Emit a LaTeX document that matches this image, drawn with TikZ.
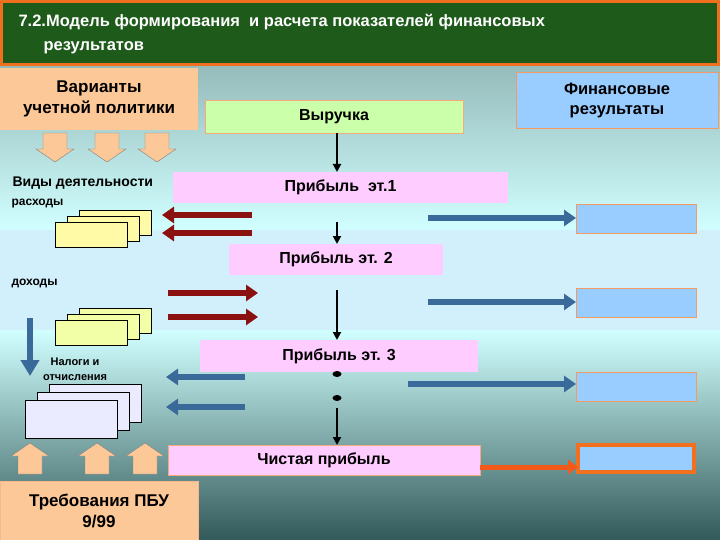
\documentclass[tikz,border=0pt]{standalone}
\usepackage{fontspec}
\setmainfont{Liberation Sans}
\usetikzlibrary{shapes.geometric,arrows.meta}
\definecolor{peach}{HTML}{FCC898}
\definecolor{pinkb}{HTML}{FFCCFF}
\definecolor{greenb}{HTML}{CCFFAA}
\definecolor{blueb}{HTML}{99CCFF}
\definecolor{darkred}{HTML}{8B1010}
\definecolor{steel}{HTML}{3A6A9A}
\definecolor{ttl}{HTML}{1E5A1A}
\definecolor{orng}{HTML}{F07020}
\tikzset{
 box/.style={anchor=north west,inner sep=0,outer sep=0,font=\bfseries},
 pbox/.style={box,fill=pinkb},
 rbox/.style={box,fill=blueb,draw=orng!70,line width=0.6pt,minimum width=120pt,minimum height=29pt},
 sheet/.style={fill=#1,draw=black,line width=0.6pt},
 fat/.style={line width=6pt,-{Triangle[length=12pt,width=16pt]}},
 blk/.style={line width=2pt,-{Triangle[length=8pt,width=8pt]}},
 pk/.style={fill=peach,draw=gray,line width=0.4pt},
}
\begin{document}
\begin{tikzpicture}[x=1pt,y=-1pt]
\shade[top color=teal!35!gray!75, bottom color=cyan!18!white] (0,0) rectangle (720,230);
\fill[cyan!18!white] (0,230) rectangle (720,330);
\shade[top color=cyan!18!white, bottom color=teal!50!black!60!gray] (0,330) rectangle (720,540);
\useasboundingbox (0,0) rectangle (720,540);
% title
\fill[ttl,draw=orng,line width=3pt] (1.5,1.5) rectangle (718.5,65);
\node[anchor=west,text=white,font=\bfseries\fontsize{16.5}{18}\selectfont] (t1) at (15,22) {7.2.Модель формирования\ \ и расчета показателей финансовых};
\node[anchor=west,text=white,font=\bfseries\fontsize{16.5}{18}\selectfont] (t2) at (40,48) {результатов};
% top boxes
\node[box,fill=peach,minimum width=198pt,minimum height=62pt,align=center,font=\bfseries\fontsize{17}{21}\selectfont] (var) at (0,68) {Варианты\\учетной политики};
\node[box,fill=greenb,draw=orng!60,line width=0.6pt,minimum width=258pt,minimum height=33pt,font=\bfseries\fontsize{16}{17}\selectfont] (rev) at (205,100) {\raisebox{-6pt}{Выручка}};
\node[box,fill=blueb,draw=orng!70,minimum width=202pt,minimum height=56pt,align=center,font=\bfseries\fontsize{16.5}{20}\selectfont] (fin) at (516,72) {Финансовые\\результаты};
% down block arrows
\foreach \x in {55,107,157}
  \draw[pk] (\x-12,133) -- (\x+12,133) -- (\x+12,149) -- (\x+19,149) -- (\x,162) -- (\x-19,149) -- (\x-12,149) -- cycle;
\node[anchor=west,font=\bfseries\fontsize{14}{15}\selectfont] (vid) at (9,183) {Виды деятельности};
\node[pbox,minimum width=335pt,minimum height=31pt,font=\bfseries\fontsize{16}{17}\selectfont] (p1) at (173,172) {\raisebox{-3pt}{Прибыль\ \ эт.1}};
\node[anchor=west,font=\bfseries\fontsize{12}{13}\selectfont] (ras) at (8,204) {расходы};
% yellow sheets
\foreach \dx/\dy in {24/-12,12/-6,0/0} \draw[sheet=yellow!35] (55+\dx,222+\dy) rectangle +(72,25);
\coordinate (r1a) at (252,215); \coordinate (r1b) at (162,215);
\coordinate (r2a) at (252,233); \coordinate (r2b) at (162,233);
\draw[fat,darkred] (r1a) -- (r1b);
\draw[fat,darkred] (r2a) -- (r2b);
\node[rbox] (b1) at (576,204) {};
\coordinate (s1) at (428,218);
\draw[fat,steel] (s1) -- (b1.west|-s1);
\node[pbox,minimum width=214pt,minimum height=31pt,font=\bfseries\fontsize{16}{17}\selectfont] (p2) at (229,244) {\raisebox{-3pt}{Прибыль эт. 2}};
\node[anchor=west,font=\bfseries\fontsize{12}{13}\selectfont] (doh) at (8,283) {доходы};
\coordinate (h1a) at (168,293); \coordinate (h1b) at (258,293);
\coordinate (h2a) at (168,317); \coordinate (h2b) at (258,317);
\draw[fat,darkred] (h1a) -- (h1b);
\draw[fat,darkred] (h2a) -- (h2b);
\foreach \dx/\dy in {24/-12,12/-6,0/0} \draw[sheet=green!15!yellow!35] (55+\dx,320+\dy) rectangle +(72,25);
\node[rbox] (b2) at (576,288) {};
\coordinate (s2) at (428,302);
\draw[fat,steel] (s2) -- (b2.west|-s2);
\coordinate (tx1) at (30,318); \coordinate (tx2) at (30,376);
\draw[fat,steel,-{Triangle[length=16pt,width=18pt]}] (tx1) -- (tx2);
\node[align=center,font=\bfseries\fontsize{11}{15}\selectfont] (nal) at (75,369) {Налоги и\\отчисления};
\node[pbox,minimum width=278pt,minimum height=32pt,font=\bfseries\fontsize{16}{17}\selectfont] (p3) at (200,340) {\raisebox{-3pt}{Прибыль эт. 3}};
\coordinate (l1a) at (245,377); \coordinate (l1b) at (166,377);
\coordinate (l2a) at (245,407); \coordinate (l2b) at (166,407);
\draw[fat,steel] (l1a) -- (l1b);
\draw[fat,steel] (l2a) -- (l2b);
\foreach \dx/\dy in {24/-16,12/-8,0/0} \draw[sheet=blue!8] (25+\dx,400+\dy) rectangle +(92,38);
\node[rbox] (b3) at (576,372) {};
\coordinate (s3) at (408,384);
\draw[fat,steel] (s3) -- (b3.west|-s3);
% dots
\node[fill=black,ellipse,inner sep=0,minimum width=9pt,minimum height=6pt] (e1) at (337,374) {};
\node[fill=black,ellipse,inner sep=0,minimum width=9pt,minimum height=6pt] (e2) at (337,398) {};
% up block arrows
\foreach \x in {30,97,145}
  \draw[pk] (\x-12,474) -- (\x+12,474) -- (\x+12,456) -- (\x+19,456) -- (\x,443) -- (\x-19,456) -- (\x-12,456) -- cycle;
\node[pbox,draw=orng!60,line width=0.6pt,minimum width=312pt,minimum height=30pt,font=\bfseries\fontsize{16}{17}\selectfont] (np) at (168,445) {\raisebox{-3pt}{Чистая прибыль}};
\node[box,fill=blueb,draw=orng,line width=4pt,minimum width=116pt,minimum height=27pt] (b4) at (578,445) {};
\coordinate (o1) at (np.east|-0,467);
\draw[line width=5pt,orng!80!red,-{Triangle[length=10pt,width=14pt]}] (o1) -- (b4.west|-o1);
\node[box,fill=peach,draw=orng!50,minimum width=198pt,minimum height=60pt,align=center,font=\bfseries\fontsize{17}{21}\selectfont] (pbu) at (0,481) {Требования ПБУ\\9/99};
% black arrows
\draw[blk] (rev.south-|337,0) -- (p1.north-|337,0);
\draw[blk] (337,222) -- (p2.north-|337,0);
\draw[blk] (337,290) -- (p3.north-|337,0);
\draw[blk] (337,408) -- (np.north-|337,0);
\end{tikzpicture}
\end{document}
